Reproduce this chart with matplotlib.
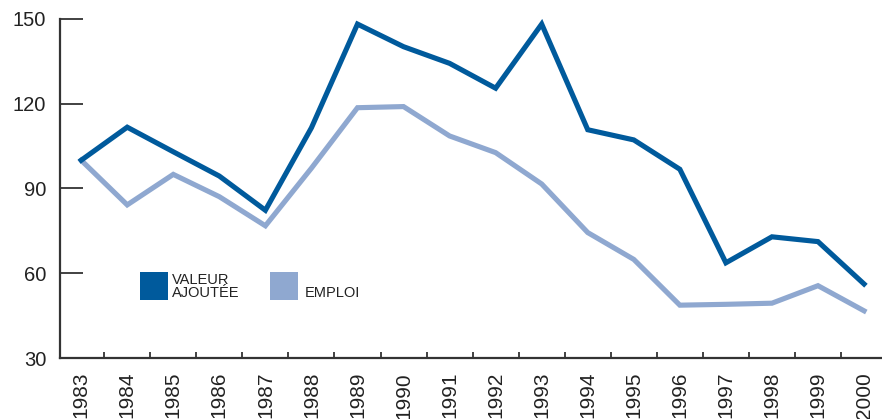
import numpy as np
import matplotlib
matplotlib.use("Agg")
import matplotlib.pyplot as plt
from matplotlib.patches import Rectangle

# data (1983 = 100)
years = [str(y) for y in range(1983, 2001)]
valeur_ajoutee = [100, 111.7, 103, 94.4, 82.3, 111.5, 148.2, 140.2, 134.3, 125.5,
                  148.2, 110.8, 107.2, 96.8, 63.7, 72.9, 71.2, 56.2]
emploi = [100, 84.2, 95.0, 87.1, 76.8, 97.2, 118.6, 119.0, 108.6, 102.7,
          91.6, 74.4, 64.9, 48.7, 49.0, 49.4, 55.6, 46.7]

dark = "#005a9c"
light = "#8fa8d0"

plt.rcParams['font.family'] = ['Liberation Sans', 'DejaVu Sans']

W, H = 882, 419
fig = plt.figure(figsize=(W / 100, H / 100), dpi=100)
ax = fig.add_axes([60 / W, (H - 358) / H, (W - 60) / W, (358 - 19) / H])

x = np.arange(len(years))
ax.plot(x, valeur_ajoutee, color=dark, lw=3.7, solid_joinstyle='miter', zorder=3)
ax.plot(x, emploi, color=light, lw=3.7, solid_joinstyle='miter', zorder=2)

ax.set_xlim(-0.46, 17.39)
ax.set_ylim(30, 150)

for s in ['top', 'right']:
    ax.spines[s].set_visible(False)
for s in ['left', 'bottom']:
    ax.spines[s].set_color('#333333')
    ax.spines[s].set_linewidth(1.6)

ax.set_yticks([30, 60, 90, 120, 150])
ax.tick_params(axis='y', direction='in', length=16.5, width=1.3, color='#333333',
               labelsize=14.5, pad=10, labelcolor='#222222')

ax.set_xticks(x)
ax.set_xticklabels(years, rotation=90, va='top', ha='center')
ax.tick_params(axis='x', which='major', length=0, labelsize=15, pad=10,
               labelcolor='#222222')
ax.set_xticks(x[:-1] + 0.5, minor=True)
ax.tick_params(axis='x', which='minor', direction='in', length=4.5, width=1.3,
               color='#333333')

# legend drawn by hand
def px_rect(x0, y0, w, h, c):
    fig.patches.append(Rectangle((x0 / W, 1 - (y0 + h) / H), w / W, h / H,
                                 transform=fig.transFigure, color=c, lw=0))

px_rect(140, 272, 28, 28, dark)
px_rect(270, 272, 28, 28, light)
fig.text(172 / W, 1 - 300 / H, "VALEUR\nAJOUTÉE", fontsize=10.5, color='#222222',
         ha='left', va='bottom', linespacing=0.9)
fig.text(305 / W, 1 - 300 / H, "EMPLOI", fontsize=10.5, color='#222222',
         ha='left', va='bottom')

fig.savefig("out.png", dpi=100)
